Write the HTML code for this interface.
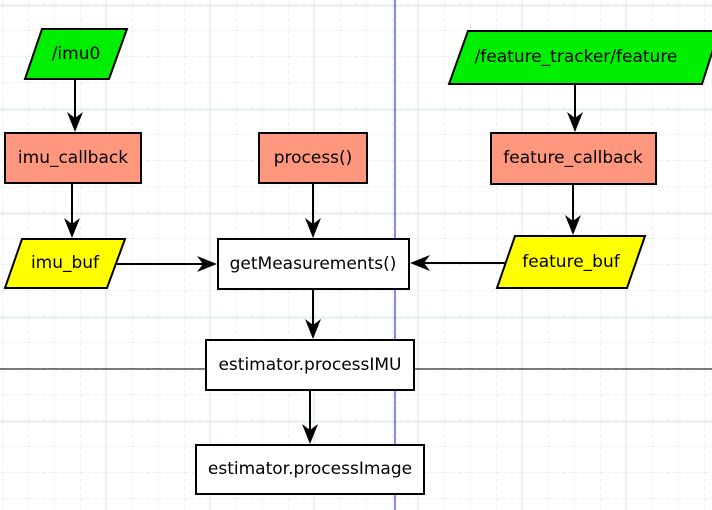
<!DOCTYPE html><html><head><style>body{margin:0;background:#fff}svg{display:block}text{font-family:"DejaVu Sans","Liberation Sans",sans-serif;font-size:17px;fill:#000;text-anchor:middle;dominant-baseline:central}</style></head><body>
<svg width="712" height="510" viewBox="0 0 712 510">
<defs>
<pattern id="g" width="26" height="26" patternUnits="userSpaceOnUse" x="2" y="4"><path d="M0 0V26M0 0H26" stroke="#d4e4e0" stroke-dasharray="4 3" fill="none"/></pattern>
<path id="h" d="M0 0L-8 -20L0 -14L8 -20Z" fill="#000"/>
</defs>
<rect width="712" height="510" fill="url(#g)"/>
<g stroke="#d4e4e0"><path d="M106 0V510M210 0V510M314 0V510M418 0V510M522 0V510M626 0V510M0 6H712M0 110H712M0 214H712M0 318H712M0 422H712"/></g>
<line x1="395" y1="0" x2="395" y2="510" stroke="#1010c8"/>
<path d="M0 369H206M414 369H712" stroke="#000"/>
<g stroke="#000" stroke-width="2" fill="none">
<path d="M75 79V120M72 183V226M313 183V226M575 84V120M573 184V223M117 264H205M505 263H422M313 289V327M310 390V432"/>
</g>
<g stroke="#000" stroke-width="2">
<polygon points="42,29 127,29 109,79 25,79" fill="#00ee00"/>
<rect x="5" y="133" width="136" height="50" fill="#ff977e"/>
<polygon points="22,239 125,239 107,288 5,288" fill="#ffff00"/>
<rect x="259" y="133" width="108" height="50" fill="#ff977e"/>
<rect x="218" y="239" width="191" height="50" fill="#fff"/>
<polygon points="468,31 719,31 702,84 449,84" fill="#00ee00"/>
<rect x="491" y="133" width="165" height="51" fill="#ff977e"/>
<polygon points="515,236 645,236 627,288 497,288" fill="#ffff00"/>
<rect x="206" y="340" width="208" height="50" fill="#fff"/>
<rect x="196" y="445" width="228" height="49" fill="#fff"/>
</g>
<use href="#h" transform="translate(75,132)"/>
<use href="#h" transform="translate(72,238)"/>
<use href="#h" transform="translate(313,238)"/>
<use href="#h" transform="translate(575,132)"/>
<use href="#h" transform="translate(573,235)"/>
<use href="#h" transform="translate(217,264) rotate(-90)"/>
<use href="#h" transform="translate(410,263) rotate(90)"/>
<use href="#h" transform="translate(313,339)"/>
<use href="#h" transform="translate(310,444)"/>
<text x="76" y="54">/imu0</text>
<text x="73" y="158">imu_callback</text>
<text x="65" y="263">imu_buf</text>
<text x="313" y="158">process()</text>
<text x="313" y="264">getMeasurements()</text>
<text x="576" y="57">/feature_tracker/feature</text>
<text x="573" y="158">feature_callback</text>
<text x="571" y="262">feature_buf</text>
<text x="310" y="365">estimator.processIMU</text>
<text x="310" y="469">estimator.processImage</text>
</svg></body></html>
